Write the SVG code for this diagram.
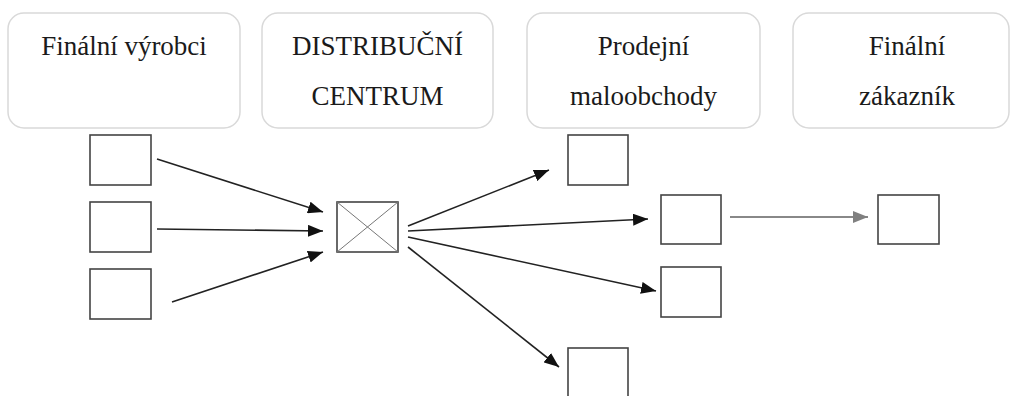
<svg xmlns="http://www.w3.org/2000/svg" width="1011" height="396" viewBox="0 0 1011 396">
<style>
.hdr{fill:#fff;stroke:#d9d9d9;stroke-width:1.5}
.b{fill:#fff;stroke:#444;stroke-width:1.6}
.x{stroke:#777;stroke-width:1}
.c{stroke:#222;stroke-width:1.6;fill:none;marker-end:url(#ah)}
.g{stroke:#888;stroke-width:2;fill:none;marker-end:url(#ag)}
</style>
<defs>
<marker id="ah" markerUnits="userSpaceOnUse" markerWidth="16" markerHeight="12" refX="15" refY="6" orient="auto"><path d="M0,0 L15,6 L0,12 Z" fill="#111"/></marker>
<marker id="ag" markerUnits="userSpaceOnUse" markerWidth="16" markerHeight="12" refX="15" refY="6" orient="auto"><path d="M0,0 L15,6 L0,12 Z" fill="#808080"/></marker>
</defs>
<rect width="1011" height="396" fill="#fff"/>
<g font-family="Liberation Serif, DejaVu Serif, serif" font-size="27" fill="#1a1a1a" text-anchor="middle">
<g id="h1"><rect class="hdr" x="8" y="13" width="232" height="115" rx="16"/><text x="124" y="55">Finální výrobci</text></g>
<g id="h2"><rect class="hdr" x="262" y="13" width="231" height="115" rx="16"/><text x="377.5" y="55">DISTRIBUČNÍ</text><text x="377.5" y="105">CENTRUM</text></g>
<g id="h3"><rect class="hdr" x="527" y="13" width="233" height="115" rx="16"/><text x="643.5" y="55">Prodejní</text><text x="643.5" y="105">maloobchody</text></g>
<g id="h4"><rect class="hdr" x="793" y="13" width="216" height="115" rx="16"/><text x="907" y="55">Finální</text><text x="907" y="105">zákazník</text></g>
</g>
<g id="p1"><rect class="b" x="90" y="135" width="61" height="50"/></g>
<g id="p2"><rect class="b" x="90" y="202" width="61" height="50"/></g>
<g id="p3"><rect class="b" x="90" y="269" width="61" height="50"/></g>
<g id="dc"><rect class="b" x="337" y="202" width="61" height="50"/><line class="x" x1="337" y1="202" x2="398" y2="252"/><line class="x" x1="398" y1="202" x2="337" y2="252"/></g>
<g id="r1"><rect class="b" x="568" y="135" width="60" height="50"/></g>
<g id="r2"><rect class="b" x="661" y="195" width="60" height="49"/></g>
<g id="r3"><rect class="b" x="661" y="267" width="60" height="50"/></g>
<g id="r4"><rect class="b" x="568" y="348" width="60" height="50"/></g>
<g id="fc"><rect class="b" x="878" y="195" width="61" height="49"/></g>
<g id="connectors">
<path class="c" d="M157,159 L323,212"/>
<path class="c" d="M157,229 L323,231"/>
<path class="c" d="M172,302 L323,252"/>
<path class="c" d="M408,226 L549,170"/>
<path class="c" d="M408,231 L648,219"/>
<path class="c" d="M408,237 L656,291"/>
<path class="c" d="M408,247 L559,367"/>
<path class="g" d="M730,217 L868,217"/>
</g>
</svg>
